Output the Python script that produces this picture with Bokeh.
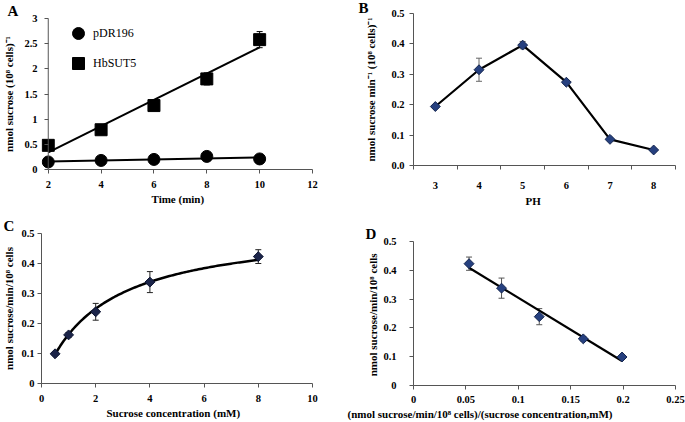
import numpy as np
from bokeh.plotting import figure
from bokeh.models import (Range1d, FixedTicker, Whisker, TeeHead, ColumnDataSource,
                          Legend, LegendItem, CustomJSTickFormatter, Title, Span)
from bokeh.layouts import row, column
from bokeh.embed import file_html
from bokeh.resources import INLINE

SERIF = "Liberation Serif"
AXIS_COLOR = "#555555"

# ---------------- data ----------------
# Panel A: uptake over time
a_time = [2, 4, 6, 8, 10]
a_pdr196 = [0.15, 0.18, 0.20, 0.26, 0.21]
a_pdr196_err = [0.02, 0.02, 0.02, 0.03, 0.02]
a_hbsut5 = [0.48, 0.79, 1.27, 1.80, 2.58]
a_hbsut5_err = [0.03, 0.04, 0.05, 0.12, 0.16]
a_xticks = [2, 4, 6, 8, 10, 12]
a_xlabels = ["2", "4", "6", "8", "10", "12"]
a_yticks = [0, 0.5, 1, 1.5, 2, 2.5, 3]
a_ylabels = ["0", "0.5", "1", "1.5", "2", "2.5", "3"]

# Panel B: pH dependence
b_ph = [3, 4, 5, 6, 7, 8]
b_xlabels = ["3", "4", "5", "6", "7", "8"]
b_rate = [0.194, 0.315, 0.396, 0.274, 0.086, 0.051]
b_err = [0.005, 0.038, 0.012, 0.006, 0.005, 0.004]
b_yticks = [0, 0.1, 0.2, 0.3, 0.4, 0.5]
b_ylabels = ["0.0", "0.1", "0.2", "0.3", "0.4", "0.5"]

# Panel C: concentration dependence
c_conc = [0.5, 1, 2, 4, 8]
c_rate = [0.099, 0.162, 0.239, 0.338, 0.423]
c_err = [0.005, 0.008, 0.028, 0.035, 0.023]
c_xticks = [0, 2, 4, 6, 8, 10]
c_xlabels = ["0", "2", "4", "6", "8", "10"]
c_yticks = [0, 0.1, 0.2, 0.3, 0.4, 0.5]
c_ylabels = ["0", "0.1", "0.2", "0.3", "0.4", "0.5"]

# Panel D: Eadie-Hofstee plot
d_ratio = [0.199, 0.162, 0.120, 0.084, 0.053]
d_rate = [0.099, 0.162, 0.239, 0.338, 0.423]
d_err = [0.005, 0.008, 0.028, 0.035, 0.023]
d_xticks = [0, 0.05, 0.1, 0.15, 0.2, 0.25]
d_xlabels = ["0", "0.05", "0.1", "0.15", "0.2", "0.25"]
d_yticks = [0, 0.1, 0.2, 0.3, 0.4, 0.5]
d_ylabels = ["0", "0.1", "0.2", "0.3", "0.4", "0.5"]


# ---------------- helpers ----------------
def make_fig(letter, letter_offset, w, h, left, right, top, bottom, xr, yr):
    p = figure(width=w, height=h, min_border_left=left, min_border_right=right,
               min_border_top=top, min_border_bottom=bottom,
               x_range=Range1d(*xr), y_range=Range1d(*yr), title=letter,
               output_backend="svg", toolbar_location=None)
    p.title.align = "left"
    p.title.offset = letter_offset
    p.title.standoff = 0
    p.title.text_font = SERIF
    p.title.text_font_style = "bold"
    p.title.text_font_size = "15px"
    p.title.text_color = "black"
    p.grid.visible = False
    p.outline_line_color = None
    for ax in p.axis:
        ax.axis_line_color = AXIS_COLOR
        ax.axis_line_width = 1
        ax.major_tick_line_color = AXIS_COLOR
        ax.minor_tick_line_color = None
        ax.major_tick_in = 0
        ax.major_tick_out = 4
        ax.major_label_text_font = SERIF
        ax.major_label_text_font_style = "bold"
        ax.major_label_text_font_size = "10.5px"
        ax.major_label_text_color = "black"
        ax.axis_label_text_font = SERIF
        ax.axis_label_text_font_style = "bold"
        ax.axis_label_text_font_size = "11px"
        ax.axis_label_text_color = "black"
    return p


def set_ticks(axis, ticks, labels, minor=None):
    axis.ticker = FixedTicker(ticks=ticks, minor_ticks=minor or [])
    axis.formatter = CustomJSTickFormatter(
        args=dict(tk=ticks, lb=labels),
        code="const i = tk.findIndex(t => Math.abs(t - tick) < 1e-9); return i >= 0 ? lb[i] : '';")


def add_err(p, xs, ys, errs, color):
    src = ColumnDataSource(dict(x=xs, upper=[y + e for y, e in zip(ys, errs)],
                                lower=[y - e for y, e in zip(ys, errs)]))
    p.add_layout(Whisker(source=src, base="x", upper="upper", lower="lower",
                         line_color=color, line_width=1,
                         upper_head=TeeHead(size=6, line_color=color, line_width=1),
                         lower_head=TeeHead(size=6, line_color=color, line_width=1)))


def xtitle(p, txt, offset, standoff):
    p.add_layout(Title(text=txt, align="left", offset=offset, standoff=standoff,
                       text_font=SERIF, text_font_style="bold", text_font_size="11px",
                       text_color="black"), "below")


# ---------------- Panel A ----------------
# the frame starts a few pixels left of x = 2 so the first markers are not cut;
# the y axis line itself is drawn at x = 2
a_pad_px = 7
a_scale = 274 / (a_xticks[-1] - a_xticks[0])
a_x0 = a_xticks[0] - a_pad_px / a_scale
pA = make_fig("A", -34, 345, 208, 37, 27, 16, 39, (a_x0, a_xticks[-1]), (0, 3))
pA.xaxis.bounds = (a_xticks[0], a_xticks[-1])
set_ticks(pA.xaxis[0], a_xticks, a_xlabels)
set_ticks(pA.yaxis[0], a_yticks, a_ylabels)
pA.xaxis.major_label_standoff = 7
pA.yaxis.axis_line_color = None
pA.yaxis.major_tick_out = -3
pA.yaxis.major_tick_in = a_pad_px
pA.yaxis.major_label_standoff = 4
pA.yaxis.axis_label_standoff = 6
pA.yaxis.axis_label = "nmol sucrose (10⁸ cells)⁻¹"
pA.add_layout(Span(location=a_xticks[0], dimension="height", line_color=AXIS_COLOR, line_width=1))

add_err(pA, a_time, a_pdr196, a_pdr196_err, "black")
add_err(pA, a_time, a_hbsut5, a_hbsut5_err, "black")
rA1 = pA.scatter(a_time, a_pdr196, marker="circle", size=12, color="black")
rA2 = pA.scatter(a_time, a_hbsut5, marker="square", size=12, color="black")
xsA = np.array([a_time[0], a_time[-1]], dtype=float)
pA.line(xsA, np.polyval(np.polyfit(a_time, a_pdr196, 1), xsA), line_width=2, color="black")
pA.line(xsA, np.polyval(np.polyfit(a_time, a_hbsut5, 1), xsA), line_width=2, color="black")
legA = Legend(items=[LegendItem(label="pDR196", renderers=[rA1]),
                     LegendItem(label="HbSUT5", renderers=[rA2])],
              location=(22, 91), glyph_width=30, glyph_height=30, label_height=30,
              spacing=-8, label_standoff=-8, padding=0, margin=0,
              border_line_color=None, background_fill_alpha=0,
              label_text_font=SERIF, label_text_font_size="12px",
              label_text_color="black")
pA.add_layout(legA)
xtitle(pA, "Time (min)", 110, 0)

# ---------------- Panel B ----------------
pB = make_fig("B", -55, 340, 208, 68, 9, 13, 43, (2.5, 8.5), (0, 0.5))
pB.title.standoff = -5
b_minor = [v - 0.5 for v in b_ph] + [b_ph[-1] + 0.5]
set_ticks(pB.xaxis[0], b_ph, b_xlabels, minor=b_minor)
set_ticks(pB.yaxis[0], b_yticks, b_ylabels)
pB.xaxis.major_tick_out = 0
pB.xaxis.minor_tick_out = 4
pB.xaxis.minor_tick_in = 0
pB.xaxis.minor_tick_line_color = AXIS_COLOR
pB.xaxis.major_label_standoff = 12
pB.yaxis.major_label_standoff = 5
pB.yaxis.axis_label_standoff = 11
pB.yaxis.axis_label = "nmol sucrose min⁻¹ (10⁸ cells)⁻¹"
add_err(pB, b_ph, b_rate, b_err, "#666666")
pB.line(b_ph, b_rate, line_width=2.2, color="black")
pB.scatter(b_ph, b_rate, marker="square", angle=np.pi / 4, size=7,
           fill_color="#26407F", line_color="#14254F")
xtitle(pB, "PH", 112, 2)

# ---------------- Panel C ----------------
pC = make_fig("C", -38, 345, 213, 41, 33, 25, 38, (0, 10), (0, 0.5))
set_ticks(pC.xaxis[0], c_xticks, c_xlabels)
set_ticks(pC.yaxis[0], c_yticks, c_ylabels)
pC.xaxis.major_label_standoff = 7
pC.yaxis.major_label_standoff = 3
pC.yaxis.axis_label_standoff = 3
pC.yaxis.axis_label = "nmol sucrose/min/10⁸ cells"
slope, intercept = np.polyfit(d_ratio, d_rate, 1)
km, vmax = -slope, intercept
c_curve_x = np.linspace(c_conc[0], c_conc[-1], 120)
pC.line(c_curve_x, vmax * c_curve_x / (km + c_curve_x), line_width=2.5, color="black")
add_err(pC, c_conc, c_rate, c_err, "#222222")
pC.scatter(c_conc, c_rate, marker="square", angle=np.pi / 4, size=7,
           fill_color="#1B2449", line_color="#0B1330")
xtitle(pC, "Sucrose concentration (mM)", 65, 0)

# ---------------- Panel D ----------------
pD = make_fig("D", -48, 340, 213, 68, 10, 33, 36, (0, 0.25), (0, 0.5))
set_ticks(pD.xaxis[0], d_xticks, d_xlabels)
set_ticks(pD.yaxis[0], d_yticks, d_ylabels)
pD.xaxis.major_label_standoff = 6
pD.yaxis.major_label_standoff = 13
pD.yaxis.axis_label_standoff = 1
pD.yaxis.axis_label = "nmol sucrose/min/10⁸  cells"
add_err(pD, d_ratio, d_rate, d_err, "#555555")
xsD = np.array([min(d_ratio), max(d_ratio)])
pD.line(xsD, np.polyval([slope, intercept], xsD), line_width=2.2, color="black")
pD.scatter(d_ratio, d_rate, marker="square", angle=np.pi / 4, size=7,
           fill_color="#26407F", line_color="#14254F")
xtitle(pD, "(nmol sucrose/min/10⁸ cells)/(sucrose concentration,mM)", -66, 0)

layout = row(column(pA, pC), column(pB, pD))

open("out.html", "w").write(file_html(layout, INLINE))
